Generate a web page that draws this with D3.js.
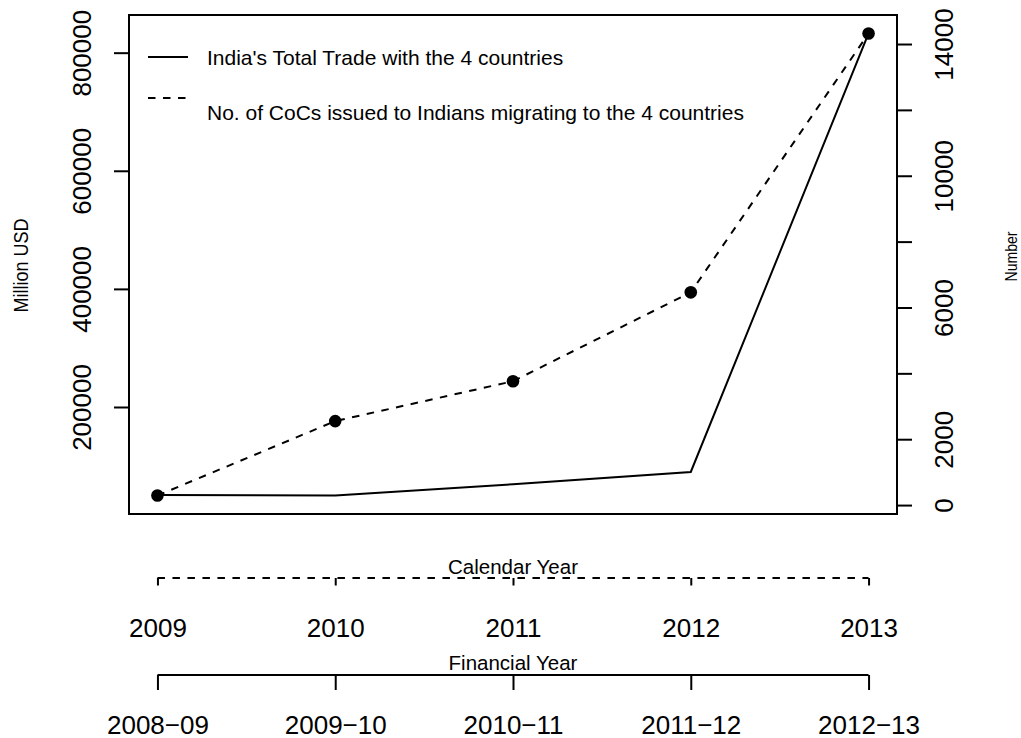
<!DOCTYPE html>
<html>
<head>
<meta charset="utf-8">
<script src="https://cdn.jsdelivr.net/npm/d3@7"></script>
<style>
  html, body { margin: 0; padding: 0; background: #fff; }
  svg { display: block; }
  text { font-family: "Liberation Sans", Arial, Helvetica, sans-serif; fill: #000; }
</style>
</head>
<body>
<svg id="chart" width="1021" height="738"></svg>
<script>
// Years shown on the x axis and their two labelings
const years = [2009, 2010, 2011, 2012, 2013];
const calendarLabels = ["2009", "2010", "2011", "2012", "2013"];
const financialLabels = ["2008\u221209", "2009\u221210", "2010\u221211", "2011\u221212", "2012\u221213"];

// India's total trade with the 4 countries (million USD)
const tradeMillionUSD = [51000, 50100, 69100, 90000, 832500];
// Certificates of Coverage issued to Indians migrating to the 4 countries
const cocsIssued = [290, 2550, 3760, 6460, 14320];

// Axis tick values (right axis labels only every other tick, as they would overlap)
const leftTicks = [200000, 400000, 600000, 800000];
const rightTicks = [0, 2000, 4000, 6000, 8000, 10000, 12000, 14000];
const rightLabeled = [0, 2000, 6000, 10000, 14000];

// Legend entries
const legendLabels = [
  "India's Total Trade with the 4 countries",
  "No. of CoCs issued to Indians migrating to the 4 countries"
];

const svg = d3.select("#chart");
svg.append("rect").attr("width", 1021).attr("height", 738).attr("fill", "#fff");

const box = { left: 129, right: 897, top: 15, bottom: 514 };
const DASH = "7.5,7.5";

// Padded extent, 4% on each side
function padded(values) {
  const [lo, hi] = d3.extent(values);
  const p = (hi - lo) * 0.04;
  return [lo - p, hi + p];
}

const x = d3.scaleLinear().domain(padded(years)).range([box.left, box.right]);
const yL = d3.scaleLinear().domain(padded(tradeMillionUSD)).range([box.bottom, box.top]);
const yR = d3.scaleLinear().domain(padded(cocsIssued)).range([box.bottom, box.top]);

// Left axis (million USD)
const gL = svg.append("g").attr("transform", `translate(${box.left},0)`)
  .call(d3.axisLeft(yL).tickValues(leftTicks).tickSize(15).tickFormat(d3.format("d")));
gL.select(".domain").remove();
gL.selectAll(".tick line").attr("stroke", "#000").attr("stroke-width", 2);
gL.selectAll(".tick text")
  .attr("transform", "rotate(-90)")
  .attr("x", 0).attr("y", -38).attr("dy", null)
  .attr("text-anchor", "middle")
  .style("font-size", "26px");

// Right axis (number of CoCs)
const fmt = d3.format("d");
const gR = svg.append("g").attr("transform", `translate(${box.right},0)`)
  .call(d3.axisRight(yR).tickValues(rightTicks).tickSize(15)
    .tickFormat(d => rightLabeled.includes(d) ? fmt(d) : ""));
gR.select(".domain").remove();
gR.selectAll(".tick line").attr("stroke", "#000").attr("stroke-width", 2);
gR.selectAll(".tick text")
  .attr("transform", "rotate(-90)")
  .attr("x", 0).attr("y", 56).attr("dy", null)
  .attr("text-anchor", "middle")
  .style("font-size", "26px");
svg.selectAll("g").attr("font-family", null).attr("font-size", null);

// Lines
const lineTrade = d3.line().x((d, i) => x(years[i])).y(d => yL(d));
const lineCoc = d3.line().x((d, i) => x(years[i])).y(d => yR(d));

svg.append("path").datum(tradeMillionUSD)
  .attr("d", lineTrade).attr("fill", "none")
  .attr("stroke", "#000").attr("stroke-width", 2);

svg.append("path").datum(cocsIssued)
  .attr("d", lineCoc).attr("fill", "none")
  .attr("stroke", "#000").attr("stroke-width", 2)
  .attr("stroke-dasharray", DASH);

svg.append("g").selectAll("circle").data(cocsIssued).join("circle")
  .attr("cx", (d, i) => x(years[i])).attr("cy", d => yR(d))
  .attr("r", 6.3).attr("fill", "#000");

// Plot frame
svg.append("rect")
  .attr("x", box.left).attr("y", box.top)
  .attr("width", box.right - box.left).attr("height", box.bottom - box.top)
  .attr("fill", "none").attr("stroke", "#000").attr("stroke-width", 2);

// Legend
const legendStyles = [null, DASH];
const legendLineY = [57, 98];
const legendTextY = [64.5, 119.5];
legendLabels.forEach((lab, i) => {
  svg.append("line")
    .attr("x1", 148).attr("x2", 188)
    .attr("y1", legendLineY[i]).attr("y2", legendLineY[i])
    .attr("stroke", "#000").attr("stroke-width", 2)
    .attr("stroke-dasharray", legendStyles[i]);
  svg.append("text")
    .attr("x", 207).attr("y", legendTextY[i])
    .style("font-size", "21px")
    .text(lab);
});

// Axis titles
svg.append("text")
  .attr("transform", "translate(28,265.5) rotate(-90)")
  .attr("text-anchor", "middle")
  .attr("textLength", 94).attr("lengthAdjust", "spacingAndGlyphs")
  .style("font-size", "20px")
  .text("Million USD");

svg.append("text")
  .attr("transform", "translate(1017,256.5) rotate(-90)")
  .attr("text-anchor", "middle")
  .attr("textLength", 50).attr("lengthAdjust", "spacingAndGlyphs")
  .style("font-size", "17px")
  .text("Number");

// Bottom axes: calendar year (dashed) and financial year (solid)
function bottomAxis(yPos, labels, dash, labelOffset) {
  const g = svg.append("g").attr("transform", `translate(0,${yPos})`)
    .call(d3.axisBottom(x).tickValues(years).tickSize(15).tickFormat((d, i) => labels[i]));
  g.select(".domain").remove();
  g.insert("line", ":first-child")
    .attr("x1", x(years[0])).attr("x2", x(years[years.length - 1]))
    .attr("y1", 0).attr("y2", 0)
    .attr("stroke", "#000").attr("stroke-width", 2)
    .attr("stroke-dasharray", dash);
  g.selectAll(".tick line").attr("stroke", "#000").attr("stroke-width", 2)
    .attr("stroke-dasharray", dash);
  g.selectAll(".tick text")
    .attr("y", labelOffset).attr("dy", null)
    .style("font-size", "26px");
  g.attr("font-family", null).attr("font-size", null);
  return g;
}

bottomAxis(578, calendarLabels, DASH, 59);
bottomAxis(675, financialLabels, null, 58.5);

const midX = (box.left + box.right) / 2;
svg.append("text")
  .attr("x", midX).attr("y", 573.5)
  .attr("text-anchor", "middle")
  .style("font-size", "20.5px")
  .text("Calendar Year");

svg.append("text")
  .attr("x", midX).attr("y", 670)
  .attr("text-anchor", "middle")
  .style("font-size", "20.5px")
  .text("Financial Year");
</script>
</body>
</html>
